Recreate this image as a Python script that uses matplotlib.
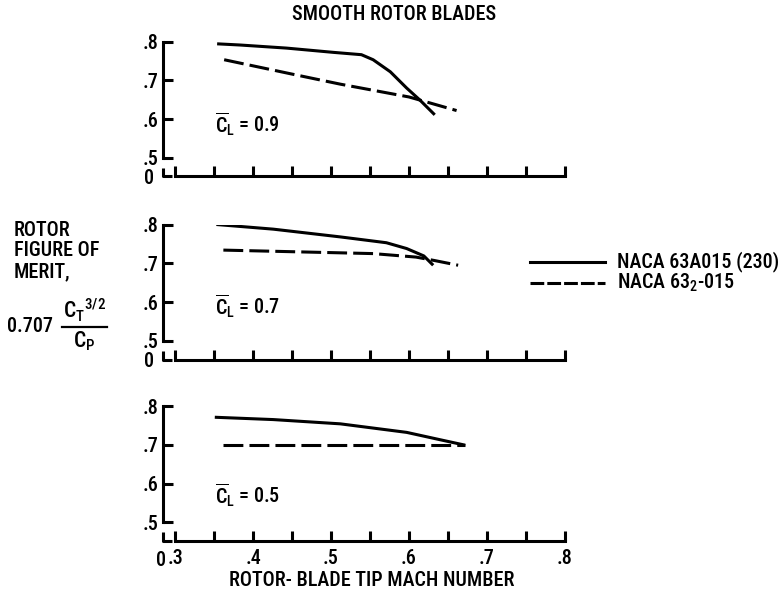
import matplotlib
matplotlib.use("Agg")
import matplotlib.pyplot as plt
from matplotlib import font_manager
from matplotlib.lines import Line2D

# look for a narrow sans face, like the typewritten lettering of the original
names = [(f.name, f.stretch) for f in font_manager.fontManager.ttflist]
narrow = None
for fam in ['Liberation Sans Narrow', 'Roboto Condensed', 'Open Sans Condensed',
            'Noto Sans Condensed', 'DejaVu Sans Condensed']:
    if any(n == fam for n, _ in names):
        narrow = fam
        break
stretch = 'normal'
if narrow is None:
    for fam in ['DejaVu Sans', 'Noto Sans', 'Open Sans', 'Roboto']:
        if any(n == fam and s in ('condensed', 'semi-condensed', 'extra-condensed', 600, 500)
               for n, s in names):
            narrow = fam
            stretch = 'condensed'
            break
if narrow is None:
    narrow = 'DejaVu Sans'
    FS = 11
else:
    FS = 14.5

plt.rcParams['font.family'] = [narrow, 'DejaVu Sans']
plt.rcParams['font.stretch'] = stretch
plt.rcParams['font.weight'] = 'medium'
plt.rcParams['mathtext.fontset'] = 'custom'
plt.rcParams['mathtext.rm'] = narrow + ':medium'
plt.rcParams['mathtext.it'] = narrow + ':medium'

# data (Mach number, figure of merit)
cl_values = ["0.9", "0.7", "0.5"]

m_solid_09 = [0.354, 0.383, 0.443, 0.503, 0.539, 0.554, 0.576, 0.597, 0.614, 0.633]
fm_solid_09 = [0.794, 0.791, 0.783, 0.772, 0.766, 0.753, 0.722, 0.680, 0.649, 0.611]
m_dash_09 = [0.363, 0.45, 0.512, 0.60, 0.661]
fm_dash_09 = [0.753, 0.716, 0.690, 0.657, 0.622]

m_solid_07 = [0.353, 0.426, 0.512, 0.571, 0.597, 0.619, 0.631]
fm_solid_07 = [0.800, 0.788, 0.768, 0.753, 0.738, 0.719, 0.695]
m_dash_07 = [0.362, 0.554, 0.609, 0.633, 0.663]
fm_dash_07 = [0.734, 0.725, 0.716, 0.707, 0.695]

m_solid_05 = [0.351, 0.426, 0.512, 0.597, 0.640, 0.672]
fm_solid_05 = [0.771, 0.765, 0.754, 0.732, 0.713, 0.699]
m_dash_05 = [0.361, 0.672]
fm_dash_05 = [0.699, 0.699]

solid = [(m_solid_09, fm_solid_09), (m_solid_07, fm_solid_07), (m_solid_05, fm_solid_05)]
dashed = [(m_dash_09, fm_dash_09), (m_dash_07, fm_dash_07), (m_dash_05, fm_dash_05)]

y_ticks = [0.5, 0.6, 0.7, 0.8]
y_labels = [".5", ".6", ".7", ".8"]
x_major = [0.3, 0.4, 0.5, 0.6, 0.7, 0.8]
x_labels = [".3", ".4", ".5", ".6", ".7", ".8"]
x_minor = [0.35, 0.45, 0.55, 0.65, 0.75]

legend_names = ["NACA 63A015 (230)", r"NACA 63$_2$-015"]

W, H = 781, 597
fig = plt.figure(figsize=(W / 100, H / 100), dpi=100)

x0, x1 = 0.2846, 0.8
y0, y1 = 0.452, 0.8
panel_tops = [41.5, 224.5, 406]   # pixel y of the .8 line
cl_text_y = [0.587, 0.589, 0.569]
lw = 2.2

for i in range(3):
    top = panel_tops[i]
    ax = fig.add_axes([163 / W, 1 - (top + 135) / H, 402 / W, 135 / H])
    ax.set_xlim(x0, x1)
    ax.set_ylim(y0, y1)
    for s in ['top', 'right']:
        ax.spines[s].set_visible(False)
    ax.spines['left'].set_bounds(0.5, 0.8)
    ax.spines['bottom'].set_bounds(0.3, 0.8)
    ax.spines['left'].set_linewidth(lw)
    ax.spines['bottom'].set_linewidth(lw)

    # broken-axis corner
    ax.plot([x0, x0, 0.2965], [0.475, y0, y0], color='black', lw=lw,
            clip_on=False, solid_capstyle='butt')

    ax.set_yticks(y_ticks)
    ax.set_yticklabels(y_labels)
    ax.set_xticks(x_major)
    ax.set_xticks(x_minor, minor=True)
    ax.tick_params(axis='both', which='both', direction='in', length=7.5,
                   width=lw, labelsize=FS, color='black')
    ax.tick_params(axis='y', pad=3)
    ax.tick_params(axis='x', pad=6)
    if i < 2:
        ax.set_xticklabels([])
        ax.text(-0.022, -0.012, "0", transform=ax.transAxes, ha='right',
                va='center', fontsize=FS)
    else:
        ax.set_xticklabels(x_labels)
        ax.text(0.2815, -0.075, "0", transform=ax.get_xaxis_transform(),
                ha='center', va='top', fontsize=FS)

    ax.plot(solid[i][0], solid[i][1], color='black', lw=2.2,
            solid_capstyle='butt')
    ax.plot(dashed[i][0], dashed[i][1], color='black', lw=2.2,
            dashes=(6.5, 2.0))

    ax.text(0.351, cl_text_y[i],
            r"$\overline{\mathrm{C}}_\mathrm{L}$ = " + cl_values[i],
            fontsize=FS, va='center', ha='left')

fig.text(394 / W, 1 - 14 / H, "SMOOTH ROTOR BLADES", ha='center',
         va='center', fontsize=FS)
fig.text(372 / W, 1 - 580 / H, "ROTOR- BLADE TIP MACH NUMBER", ha='center',
         va='center', fontsize=FS)

# y-axis caption
fig.text(14 / W, 1 - 221 / H, "ROTOR\nFIGURE OF\nMERIT,", ha='left',
         va='top', fontsize=FS, linespacing=1.1)
fig.text(53 / W, 1 - 326 / H, "0.707", ha='right', va='center', fontsize=FS)
fig.text(85 / W, 1 - 310 / H, r"$\mathrm{C_T}^{3/2}$", ha='center',
         va='center', fontsize=FS + 1)
fig.add_artist(Line2D([62 / W, 107 / W], [1 - 327 / H, 1 - 327 / H],
                      color='black', lw=1.6))
fig.text(84 / W, 1 - 341 / H, r"$\mathrm{C_P}$", ha='center',
         va='center', fontsize=FS + 1)

# legend
fig.add_artist(Line2D([530 / W, 605 / W], [1 - 262 / H, 1 - 262 / H],
                      color='black', lw=2.2))
fig.add_artist(Line2D([530 / W, 605 / W], [1 - 283 / H, 1 - 283 / H],
                      color='black', lw=2.2, dashes=(4.5, 1.0)))
fig.text(617 / W, 1 - 262 / H, legend_names[0], ha='left', va='center',
         fontsize=FS)
fig.text(617 / W, 1 - 283 / H, legend_names[1], ha='left', va='center',
         fontsize=FS)

fig.savefig("out.png", dpi=100)
